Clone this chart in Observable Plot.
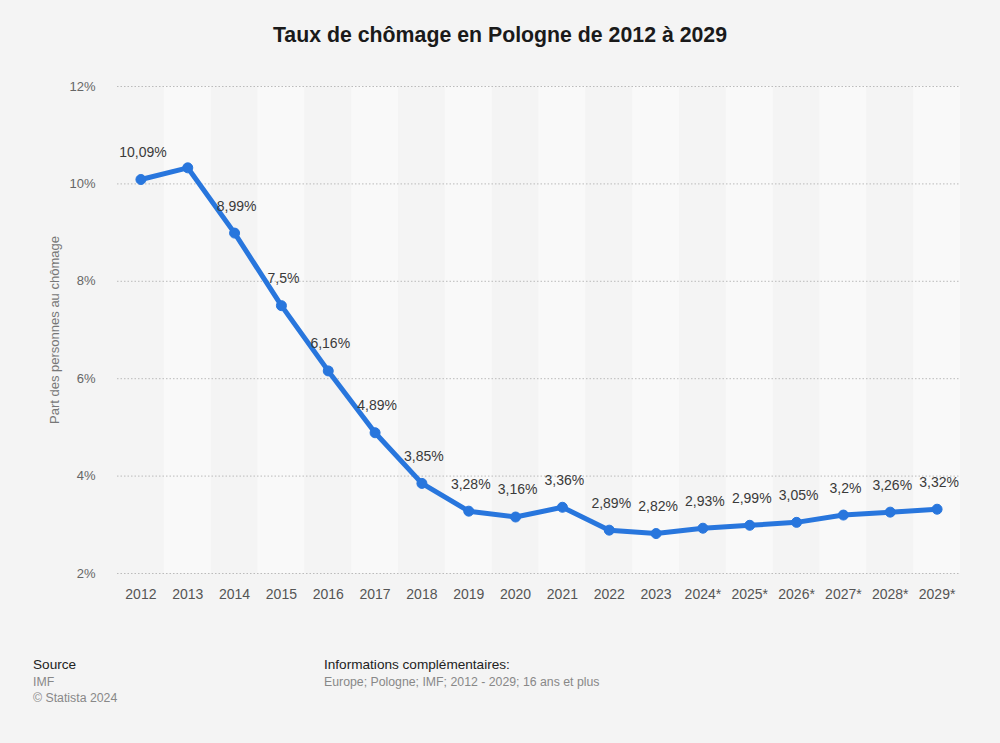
<!DOCTYPE html>
<html>
<head>
<meta charset="utf-8">
<script src="https://cdn.jsdelivr.net/npm/d3@7"></script>
<script src="https://cdn.jsdelivr.net/npm/@observablehq/plot@0.6"></script>
<style>
  html, body { margin: 0; padding: 0; background: #f4f4f4; width: 1000px; height: 743px; overflow: hidden; font-family: "Liberation Sans", Arial, sans-serif; }
  #title { position: absolute; top: 23px; left: 0; width: 1000px; text-align: center; font-weight: bold; font-size: 21.3px; color: #1a1a1a; }
  #chart { position: absolute; top: 60px; left: 0; }
  .foot { position: absolute; font-size: 13.6px; color: #222; line-height: 16.5px; }
  .foot .sub { font-size: 12.3px; color: #888; }
</style>
</head>
<body>
<div id="title">Taux de chômage en Pologne de 2012 à 2029</div>
<div id="chart"></div>
<div class="foot" style="left:33px; top:657px;">Source<br><span class="sub">IMF<br>© Statista 2024</span></div>
<div class="foot" style="left:324px; top:657px;">Informations complémentaires:<br><span class="sub">Europe; Pologne; IMF; 2012 - 2029; 16 ans et plus</span></div>
<script>
const years = ["2012","2013","2014","2015","2016","2017","2018","2019","2020","2021","2022","2023","2024*","2025*","2026*","2027*","2028*","2029*"];
const rates = [10.09, 10.33, 8.99, 7.5, 6.16, 4.89, 3.85, 3.28, 3.16, 3.36, 2.89, 2.82, 2.93, 2.99, 3.05, 3.2, 3.26, 3.32];
const labels = ["10,09%", "", "8,99%", "7,5%", "6,16%", "4,89%", "3,85%", "3,28%", "3,16%", "3,36%", "2,89%", "2,82%", "2,93%", "2,99%", "3,05%", "3,2%", "3,26%", "3,32%"];
const yTicks = [2, 4, 6, 8, 10, 12];

const data = years.map((y, i) => ({year: y, rate: rates[i], label: labels[i], idx: i}));
const blue = "#2876dd";

const chart = Plot.plot({
  width: 1000,
  height: 560,
  marginTop: 26,
  marginBottom: 47,
  marginLeft: 117,
  marginRight: 40,
  style: { background: "transparent", fontFamily: "Liberation Sans, Arial, sans-serif" },
  x: { type: "band", domain: years, padding: 0, round: false, label: null },
  y: { domain: [2, 12], label: null },
  marks: [
    Plot.barY(data.filter(d => d.idx % 2 === 1), { x: "year", y1: 2, y2: 12, fill: "#f9f9f9", inset: 0 }),
    Plot.ruleY(yTicks, { stroke: "#bbb", strokeDasharray: "1.5,2", strokeWidth: 1 }),
    Plot.axisX({ tickSize: 0, tickPadding: 16, fontSize: 14, color: "#555", label: null }),
    Plot.axisY({ ticks: yTicks, tickFormat: d => d + "%", tickSize: 0, tickPadding: 22, fontSize: 13, color: "#666", label: null }),
    Plot.text(["Part des personnes au chômage"], { frameAnchor: "left", textAnchor: "middle", dx: -63, rotate: -90, fontSize: 13, fill: "#777" }),
    Plot.line(data, { x: "year", y: "rate", stroke: blue, strokeWidth: 5, strokeLinejoin: "round", strokeLinecap: "round" }),
    Plot.dot(data, { x: "year", y: "rate", r: 5, fill: blue, stroke: blue, strokeWidth: 1 }),
    Plot.text(data.filter(d => d.label), { x: "year", y: "rate", text: "label", dy: -27, dx: 2, fontSize: 14, fill: "#3a3a3a" })
  ]
});
document.getElementById("chart").appendChild(chart);
</script>
</body>
</html>
